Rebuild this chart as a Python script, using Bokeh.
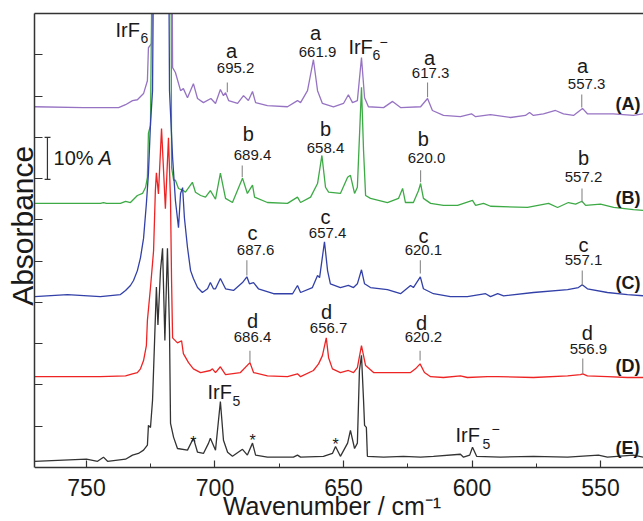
import math
from bokeh.plotting import figure
from bokeh.models import (Range1d, LinearAxis, FixedTicker, Label, ColumnDataSource,
                          CustomJSTickFormatter)
from bokeh.core.properties import value
from bokeh.embed import file_html
from bokeh.resources import INLINE

# ---------------- data ----------------
# wavenumbers (cm-1) and absorbance relative to each trace's own baseline
A_wn = [770.2, 751.2, 737.5, 734.8, 732.1, 730.2, 727.8, 726.3, 725.9, 724.7, 723.6, 722.0, 719.0, 716.9, 716.5,
        715.4, 713.4, 712.3, 710.7, 708.4, 706.8, 704.5, 701.6, 699.8, 697.9, 696.7, 695.9, 694.7, 691.2, 688.9,
        687.0, 685.4, 684.2, 679.6, 671.8, 667.9, 666.7, 664.0, 661.7, 660.1, 658.2, 653.9, 650.0, 648.1, 646.5,
        644.6, 643.0, 641.8, 640.3, 634.4, 630.9, 627.8, 620.0, 617.3, 615.4, 611.1, 604.5, 600.2, 598.6, 592.8,
        585.0, 579.2, 577.6, 576.1, 572.2, 567.5, 564.4, 560.5, 557.0, 555.1, 550.0, 545.0, 537.2, 533.3]
A_ab = [0.002, 0.0, 0.0, 0.007, 0.017, 0.019, 0.034, 0.065, 0.145, 0.155, 0.6, 1.5, 1.5, 0.6, 0.097,
        0.085, 0.041, 0.046, 0.024, 0.058, 0.022, 0.012, 0.022, 0.010, 0.044, 0.029, 0.036, 0.017, 0.010, 0.029,
        0.017, 0.039, 0.012, 0.005, 0.002, 0.017, 0.012, 0.041, 0.116, 0.041, 0.010, 0.002, 0.010, 0.031, 0.012,
        0.017, 0.121, 0.024, 0.002, 0.0, 0.015, 0.0, 0.002, 0.022, -0.007, -0.019, -0.022, -0.015, -0.022, -0.017,
        -0.024, -0.019, -0.012, -0.019, -0.015, -0.007, -0.015, -0.019, -0.002, -0.015, -0.015, -0.015, -0.019, -0.015]

B_wn = [770.2, 744.6, 743.4, 742.2, 736.8, 734.8, 732.9, 730.2, 728.2, 727.0, 726.3, 725.9, 725.1, 724.0, 722.0,
        719.0, 717.2, 716.9, 716.1, 715.4, 714.2, 712.3, 711.5, 708.8, 707.6, 705.6, 703.7, 701.8, 699.8, 697.9,
        695.9, 693.2, 689.3, 687.4, 685.4, 684.6, 679.6, 671.8, 667.9, 666.7, 662.8, 660.1, 658.4, 657.0, 655.8,
        651.2, 648.4, 647.3, 645.7, 644.6, 643.0, 642.2, 641.4, 639.5, 632.9, 628.6, 627.0, 625.9, 622.8, 620.8,
        620.0, 618.9, 616.1, 611.1, 605.6, 599.8, 598.6, 595.5, 592.8, 578.4, 570.2, 566.7, 562.5, 559.7, 557.2,
        555.8, 550.0, 544.9, 537.2, 533.3]
B_ab = [0, 0, 0.002, 0, 0, 0.005, 0.002, 0.019, 0.024, 0.039, 0.063, 0.170, 0.189, 0.9, 2.0,
        2.0, 0.9, 0.087, 0.056, 0.056, 0.036, 0.031, 0.027, 0.051, 0.027, 0.019, 0.015, 0.031, 0.010, 0.073,
        0.012, 0.002, 0.061, 0.024, 0.044, 0.015, 0.002, 0, 0.015, 0.002, 0.015, 0.048, 0.116, 0.039, 0.027,
        0.024, 0.063, 0.068, 0.024, 0.039, 0.281, 0.128, 0.019, 0.012, 0.002, 0.012, 0.036, 0.002, 0.002, 0.031,
        0.048, 0.012, 0, -0.005, -0.005, 0.007, -0.005, 0, -0.007, -0.010, 0, -0.010, 0.002, -0.002, 0.005,
        -0.005, -0.002, -0.010, -0.015, -0.017]

C_wn = [770.2, 757.4, 744.6, 736.8, 734.8, 732.9, 731.7, 730.2, 729.0, 727.8, 726.7, 725.9, 725.1, 724.3, 723.5,
        721.0, 719.5, 718.3, 717.7, 716.5, 715.4, 714.2, 713.4, 712.6, 711.9, 710.7, 709.5, 708.4, 706.8, 704.9,
        702.9, 701.8, 700.6, 699.8, 697.9, 695.9, 692.8, 689.3, 687.6, 686.6, 685.0, 683.1, 677.2, 669.8, 667.9,
        666.7, 662.1, 660.1, 659.3, 657.4, 656.2, 655.1, 651.2, 648.1, 646.1, 644.6, 643.0, 641.8, 639.5, 632.9,
        627.8, 623.9, 622.8, 620.1, 618.9, 615.0, 608.4, 601.8, 594.7, 592.8, 590.0, 587.7, 576.1, 562.8, 558.6,
        557.1, 555.1, 547.3, 539.5, 533.3]
C_ab = [0, 0.005, 0, 0.005, 0.015, 0.027, 0.039, 0.063, 0.094, 0.141, 0.225, 0.298, 0.419, 0.499, 1.2,
        2.5, 2.5, 1.2, 0.499, 0.337, 0.233, 0.167, 0.250, 0.264, 0.191, 0.119, 0.063, 0.044, 0.022, 0.010,
        0.019, 0.034, 0.019, 0.019, 0.044, 0.019, 0.015, 0.034, 0.048, 0.031, 0.034, 0.019, 0.007, 0.007, 0.027,
        0.010, 0.022, 0.051, 0.046, 0.133, 0.063, 0.031, 0.022, 0.027, 0.022, 0.031, 0.065, 0.031, 0.022, 0.017,
        0.007, 0.027, 0.022, 0.048, 0.019, 0.007, 0, 0, 0.007, 0, 0.007, 0.002, 0.010, 0.017, 0.022,
        0.029, 0.019, 0.010, 0.005, 0.002]

D_wn = [770.2, 744.6, 734.8, 732.1, 730.2, 729.0, 727.8, 726.7, 726.3, 725.1, 723.9, 723.2, 722.8, 722.0, 720.8,
        719.3, 718.1, 717.3, 716.9, 716.5, 714.6, 713.0, 712.3, 710.3, 708.4, 705.6, 701.8, 701.0, 699.8, 697.9,
        695.9, 690.1, 686.4, 685.0, 679.6, 671.8, 667.9, 666.7, 661.7, 659.7, 658.2, 656.7, 655.8, 654.3, 651.2,
        648.1, 646.1, 644.6, 643.0, 641.4, 638.3, 627.8, 623.9, 622.0, 620.2, 618.5, 616.1, 611.1, 604.5, 601.8,
        594.0, 590.0, 576.1, 562.8, 557.8, 556.9, 555.1, 547.3, 539.5, 533.3]
D_ab = [0, 0, 0.002, 0.007, 0.010, 0.019, 0.039, 0.075, 0.136, 0.216, 0.305, 0.451, 0.494, 0.443, 0.601,
        0.407, 0.579, 0.426, 0.233, 0.094, 0.082, 0.087, 0.056, 0.034, 0.019, 0.010, 0.015, 0.019, 0.010, 0.024,
        0.005, 0.010, 0.034, 0.010, 0.002, 0, 0.007, 0, 0.015, 0.031, 0.051, 0.094, 0.046, 0.019, 0.010,
        0.015, 0.010, 0.022, 0.075, 0.027, 0.010, 0.010, 0.010, 0.019, 0.031, 0.010, 0, -0.002, 0.002, -0.002,
        0, 0, -0.002, 0.002, 0.005, 0.007, 0.002, 0, -0.002, -0.002]

E_wn = [770.2, 750.0, 745.7, 743.4, 741.8, 734.8, 732.1, 729.8, 727.8, 726.3, 725.9, 725.1, 724.3, 723.5, 722.8,
        722.2, 721.2, 720.4, 719.5, 718.5, 717.7, 717.3, 716.1, 714.6, 710.7, 708.4, 706.8, 704.5, 702.5, 701.8,
        699.8, 697.9, 696.7, 695.1, 693.2, 689.3, 687.4, 685.4, 684.2, 679.6, 669.5, 667.9, 666.7, 657.8, 654.3,
        653.1, 651.2, 648.4, 647.3, 645.7, 644.6, 643.8, 643.0, 642.2, 641.8, 641.1, 640.7, 634.4, 626.7, 620.0,
        615.0, 604.5, 603.3, 600.9, 599.8, 598.2, 588.9, 576.1, 562.8, 550.8, 547.3, 537.2, 533.3]
E_ab = [0, 0.005, 0, 0.010, 0, 0.005, 0.015, 0.019, 0.027, 0.039, 0.087, 0.082, 0.148, 0.293, 0.422,
        0.330, 0.463, 0.516, 0.293, 0.516, 0.317, 0.092, 0.058, 0.031, 0.027, 0.056, 0.022, 0.019, 0.044, 0.056,
        0.027, 0.145, 0.051, 0.022, 0.012, 0.029, 0.015, 0.044, 0.015, 0.010, 0.010, 0.015, 0.010, 0.012, 0.019,
        0.036, 0.012, 0.044, 0.075, 0.031, 0.044, 0.220, 0.257, 0.148, 0.087, 0.082, 0.012, 0.010, 0.012, 0.010,
        0.012, 0.017, 0.010, 0.015, 0.034, 0.012, 0.010, 0.012, 0.010, 0.015, 0.010, 0.015, 0.010]

trace_names = ["(A)", "(B)", "(C)", "(D)", "(E)"]
trace_offsets = [0.872, 0.640, 0.414, 0.220, 0.015]

# band labels
band_letter = ["a", "a", "a", "a", "b", "b", "b", "b", "c", "c", "c", "c", "d", "d", "d", "d"]
band_value = ["695.2", "661.9", "617.3", "557.3", "689.4", "658.4", "620.0", "557.2",
              "687.6", "657.4", "620.1", "557.1", "686.4", "656.7", "620.2", "556.9"]
star_wn = [708.4, 685.4, 653.1]

x_ticks = [750, 700, 650, 600, 550]
x_minor = [725, 675, 625, 575]
y_ticks = [0.1, 0.2, 0.3, 0.4, 0.5, 0.6, 0.7, 0.8, 0.9, 1.0]

# ---------------- layout (placement of annotations) ----------------
num_pos_x = [692.0, 660.1, 616.1, 555.4, 685.4, 657.0, 617.7, 556.6, 684.2, 656.2, 618.9, 556.6, 685.4, 655.8, 618.9, 554.7]
num_pos_y = [0.969, 1.006, 0.955, 0.930, 0.758, 0.775, 0.751, 0.703, 0.526, 0.567, 0.526, 0.502, 0.315, 0.337, 0.315, 0.288]
let_pos_x = [693.6, 660.9, 616.5, 557.0, 687.0, 657.0, 618.9, 556.6, 685.4, 657.0, 618.9, 556.6, 685.4, 656.6, 619.6, 555.1]
let_pos_y = [1.010, 1.052, 0.993, 0.974, 0.809, 0.819, 0.797, 0.749, 0.569, 0.606, 0.562, 0.538, 0.356, 0.376, 0.351, 0.327]
tick_top = [0.933, None, 0.933, 0.904, 0.732, None, 0.720, 0.676, 0.502, None, 0.502, 0.477, 0.283, None, 0.283, 0.264]
tick_bot = [0.909, None, 0.897, 0.872, 0.703, None, 0.691, 0.642, 0.465, None, 0.470, 0.441, 0.254, None, 0.259, 0.228]
star_pos_y = [0.061, 0.065, 0.056]
name_pos_y = [0.880, 0.654, 0.448, 0.247, 0.046]

colors = ["#9673c3", "#3daa46", "#3240a8", "#ee2424", "#333333"]
FONT = "Liberation Sans"
TXT = "#1a1a1a"
NB = "\u00a0"

# frame runs to the bottom of the canvas; the x axis sits at absorbance 0 (pixel 467)
p = figure(width=643, height=521, x_range=Range1d(770.23, 533.27), y_range=Range1d(-0.1309, 1.1),
           output_backend="svg", toolbar_location=None,
           min_border_left=34, min_border_right=0, min_border_top=13, min_border_bottom=0)
p.outline_line_color = None
p.grid.visible = False
p.background_fill_color = "white"
p.border_fill_color = "white"

ax = p.xaxis[0]
ax.fixed_location = 0
ax.ticker = FixedTicker(ticks=x_ticks, minor_ticks=x_minor)
ax.major_tick_in = 7
ax.major_tick_out = 0
ax.minor_tick_in = 4
ax.minor_tick_out = 0
ax.axis_line_width = 1.5
ax.axis_line_color = "#333333"
ax.major_tick_line_color = "#333333"
ax.minor_tick_line_color = "#333333"
ax.major_tick_line_width = 1.2
ax.major_label_text_font = FONT
ax.major_label_text_font_size = "23px"
ax.major_label_text_color = TXT
ax.major_label_standoff = 12
ax.axis_label = "Wavenumber / cm\u207b\u00b9" + NB * 2
ax.axis_label_text_font = FONT
ax.axis_label_text_font_size = "25px"
ax.axis_label_text_font_style = "normal"
ax.axis_label_text_color = TXT
ax.axis_label_standoff = -8

ay = p.yaxis[0]
ay.bounds = (0, 1.1)
ay.ticker = FixedTicker(ticks=y_ticks)
ay.formatter = CustomJSTickFormatter(code="return ''")
ay.major_label_text_font_size = "0px"
ay.major_tick_in = 8
ay.major_tick_out = 0
ay.minor_tick_line_color = None
ay.axis_line_width = 1.5
ay.axis_line_color = "#333333"
ay.major_tick_line_color = "#333333"
ay.major_tick_line_width = 1.2
ay.major_label_standoff = 0
ay.axis_label = NB * 10 + "Absorbance"
ay.axis_label_text_font = FONT
ay.axis_label_text_font_size = "30px"
ay.axis_label_text_font_style = "normal"
ay.axis_label_text_color = TXT
ay.axis_label_standoff = -4

top = LinearAxis(ticker=FixedTicker(ticks=[]), axis_line_width=1.5, axis_line_color="#333333",
                 major_tick_line_color=None, minor_tick_line_color=None, major_label_standoff=0)
p.add_layout(top, "above")

# traces
traces = [(A_wn, A_ab), (B_wn, B_ab), (C_wn, C_ab), (D_wn, D_ab), (E_wn, E_ab)]
for i in [0, 1, 4, 3, 2]:
    wn, ab = traces[i]
    y = [a + trace_offsets[i] for a in ab]
    p.line(wn, y, line_color=colors[i], line_width=1.3)

# band marker ticks
mx, my0, my1 = [], [], []
for v, t, b in zip(band_value, tick_top, tick_bot):
    if t is not None:
        mx.append(float(v)); my0.append(t); my1.append(b)
p.segment(x0=mx, y0=my0, x1=mx, y1=my1, line_color="#888888", line_width=1.1)

src_num = ColumnDataSource(dict(x=num_pos_x, y=num_pos_y, t=band_value))
p.text(x="x", y="y", text="t", source=src_num, text_font=value(FONT), text_font_size="15px",
       text_align="center", text_baseline="middle", text_color=TXT)
src_let = ColumnDataSource(dict(x=let_pos_x, y=let_pos_y, t=band_letter))
p.text(x="x", y="y", text="t", source=src_let, text_font=value(FONT), text_font_size="20px",
       text_align="center", text_baseline="middle", text_color=TXT)

# stars
p.text(x=star_wn, y=star_pos_y, text=["*"] * len(star_wn), text_font=value(FONT), text_font_size="16px",
       text_align="center", text_baseline="middle", text_color=TXT)

# trace names
p.text(x=[544.2] * 5, y=name_pos_y, text=trace_names, text_font=value(FONT), text_font_size="18px",
       text_font_style="bold", text_align="left", text_baseline="middle", text_color=TXT)

def lab(x, y, t, size, **kw):
    p.add_layout(Label(x=x, y=y, text=t, text_font=FONT, text_font_size=size, text_color=TXT,
                       text_baseline=kw.pop("baseline", "middle"), text_align=kw.pop("align", "left"), **kw))

# species labels with sub/superscripts
lab(738.7, 1.059, "IrF", "20px")
lab(729.0, 1.040, "6", "14px")
lab(648.1, 1.018, "IrF", "20px")
lab(638.7, 0.999, "6", "14px")
lab(636.0, 1.032, "\u2212", "14px")
lab(702.9, 0.182, "IrF", "20px")
lab(693.2, 0.162, "5", "14px")
lab(606.4, 0.078, "IrF", "20px")
lab(595.9, 0.058, "5", "14px")
lab(592.4, 0.094, "\u2212", "14px")

# scale bar 10% A
p.segment(x0=[765.2, 766.3, 766.3], y0=[0.698, 0.800, 0.698], x1=[765.2, 764.0, 764.0], y1=[0.800, 0.800, 0.698],
          line_color="#333333", line_width=1.2)
lab(762.8, 0.749, "10%", "20px")
lab(745.3, 0.749, "A", "20px", text_font_style="italic")

open("out.html", "w").write(file_html(p, INLINE))
